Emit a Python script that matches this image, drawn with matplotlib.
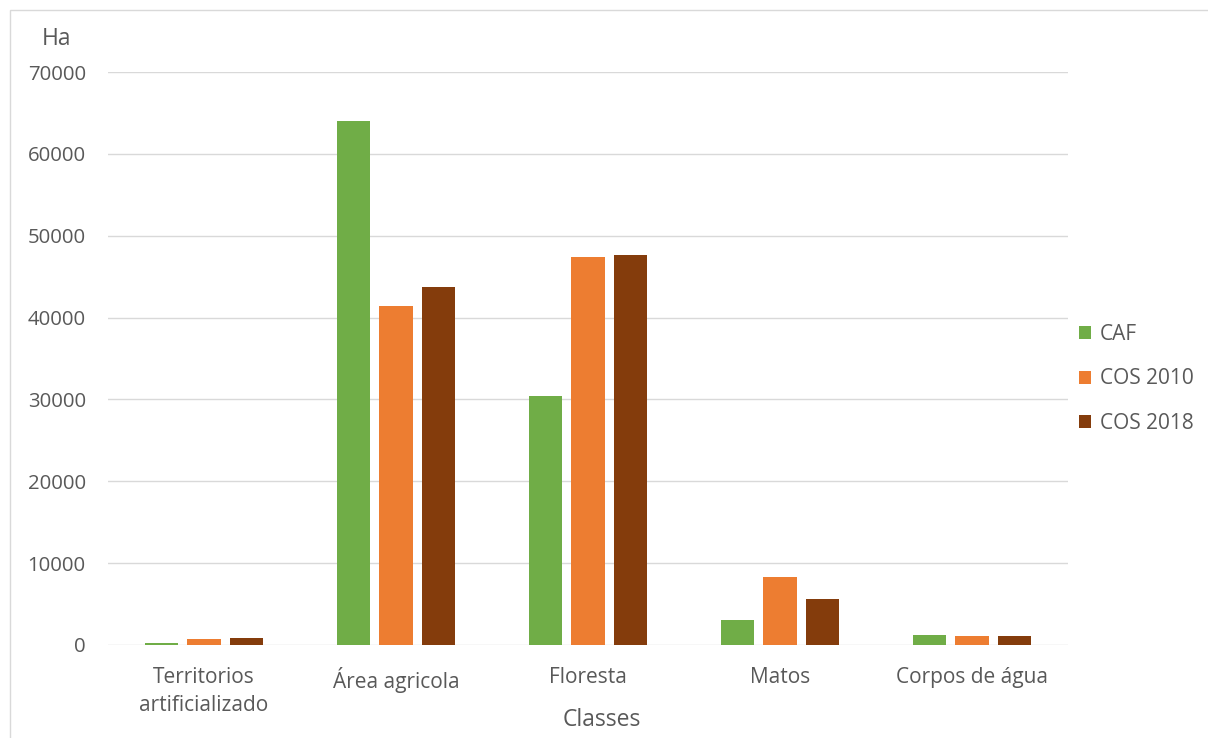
import numpy as np
import matplotlib.pyplot as plt
from matplotlib.patches import Rectangle

categories = ["Territorios\nartificializado", "Área agricola", "Floresta", "Matos", "Corpos de água"]
series = ["CAF", "COS 2010", "COS 2018"]
caf = [280, 64000, 30400, 3050, 1180]
cos2010 = [700, 41400, 47400, 8350, 1060]
cos2018 = [850, 43750, 47650, 5580, 1140]
colors = ["#70ad47", "#ed7d31", "#843c0c"]
yticks = [0, 10000, 20000, 30000, 40000, 50000, 60000, 70000]

plt.rcParams['font.family'] = ['Open Sans', 'DejaVu Sans']
txt = "#595959"

fig = plt.figure(figsize=(12.08, 7.38), dpi=100)
ax = fig.add_axes([108/1208, 1-645/738, (1068-108)/1208, (645-72)/738])

x = np.arange(len(categories))
w = 0.172
step = 0.22
for i, (vals, name) in enumerate(zip([caf, cos2010, cos2018], series)):
    ax.bar(x + (i-1)*step, vals, w, color=colors[i], label=name, zorder=3)

ax.set_xlim(-0.5, len(categories)-0.5)
ax.set_ylim(0, 70000)
ax.set_yticks(yticks)
ax.set_yticklabels([str(v) for v in yticks], fontsize=14.7, color=txt)
ax.set_xticks(x)
ax.set_xticklabels(categories, fontsize=15, color=txt, linespacing=1.4)
ax.tick_params(axis='y', length=0, pad=16)
ax.tick_params(axis='x', length=0, pad=16)
ax.grid(axis='y', color="#d9d9d9", lw=1, zorder=0)
for s in ax.spines.values():
    s.set_visible(False)

fig.text(602/1208, 1-720/738, "Classes", fontsize=16.5, color=txt, ha='center', va='center')
fig.text(57/1208, 1-39/738, "Ha", fontsize=16.5, color=txt, ha='center', va='center')

leg = fig.legend(loc='center left', bbox_to_anchor=(1060/1208, 1-379/738), frameon=False,
                 fontsize=15, labelcolor=txt, handlelength=0.6, handleheight=0.6,
                 handletextpad=0.4, labelspacing=1.12)

fig.patches.append(Rectangle((10/1208, -0.1), 1.2, 1-10/738+0.1, transform=fig.transFigure,
                             fill=False, edgecolor="#d9d9d9", lw=1))

fig.savefig("out.png", dpi=100)
